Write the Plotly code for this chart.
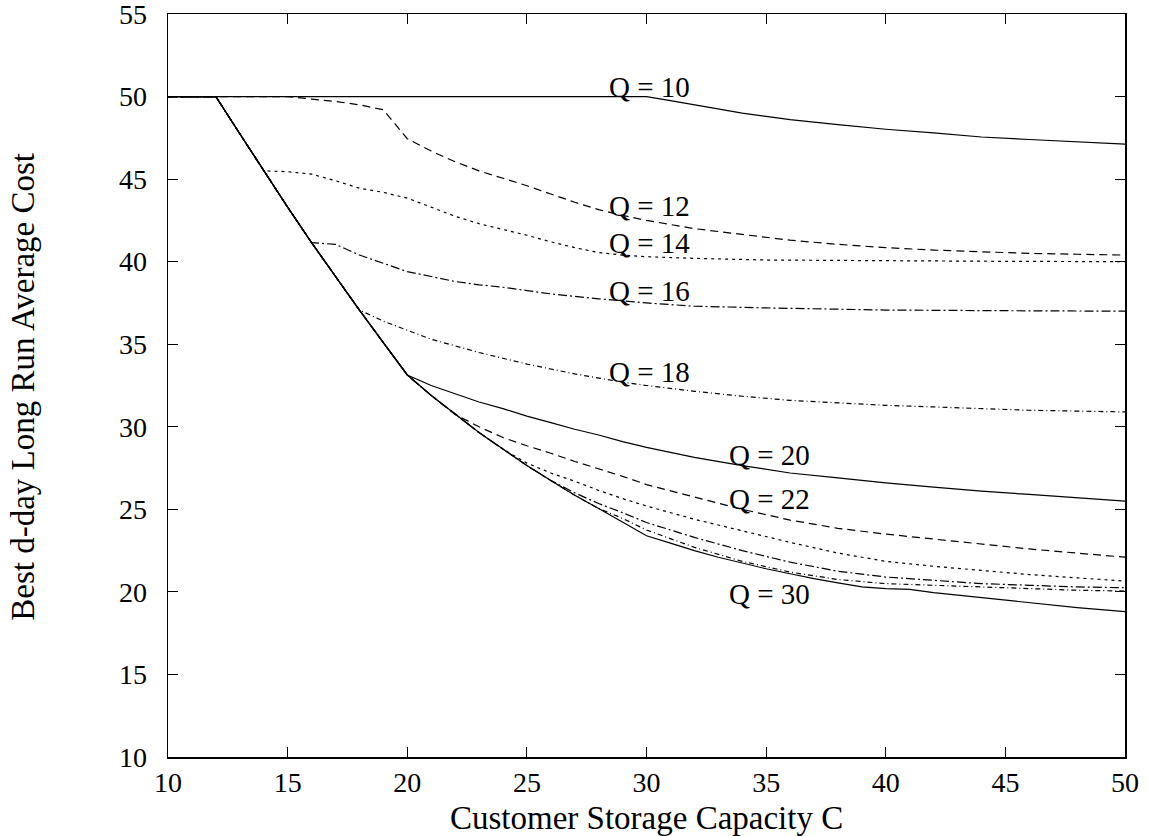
import plotly.graph_objects as go

# Lower envelope (shared by every Q curve for C <= Q)
env_C = [10, 11, 12, 13, 14, 15, 16, 17, 18, 19, 20, 21, 22, 23, 24, 25, 26, 27, 28, 29, 30]
env_v = [50, 50, 50, 47.75, 45.5, 43.3, 41.15, 39.1, 37.07, 35.1, 33.14, 31.9, 30.75, 29.65,
         28.65, 27.65, 26.75, 25.85, 25.05, 24.25, 23.4]

# Each Q curve from its branch point C = Q onward
q10_C = [10, 15, 20, 25, 30, 31, 32, 33, 34, 35, 36, 38, 40, 42, 44, 46, 48, 50]
q10_v = [50, 50, 50, 50, 50, 49.75, 49.5, 49.25, 49.0, 48.8, 48.6, 48.3, 48.02, 47.8, 47.55, 47.4, 47.25, 47.12]

q12_C = [12, 13, 14, 15, 16, 17, 18, 19, 20, 21, 22, 23, 24, 25, 26, 27, 28, 29, 30, 32, 34, 36, 38, 40, 42, 44, 46, 48, 50]
q12_v = [50, 50, 50, 50, 49.85, 49.7, 49.5, 49.2, 47.45, 46.7, 46.05, 45.5, 45.05, 44.6, 44.1, 43.6, 43.15,
         42.8, 42.5, 42.0, 41.65, 41.3, 41.05, 40.85, 40.7, 40.6, 40.5, 40.45, 40.4]

q14_C = [14, 15, 16, 17, 18, 19, 20, 21, 22, 23, 24, 25, 26, 27, 28, 29, 30, 32, 35, 40, 45, 50]
q14_v = [45.5, 45.45, 45.3, 44.9, 44.45, 44.2, 43.85, 43.3, 42.75, 42.3, 41.95, 41.6, 41.2, 40.85, 40.55,
         40.4, 40.3, 40.2, 40.1, 40.05, 40.02, 40.0]

q16_C = [16, 17, 18, 19, 20, 21, 22, 23, 24, 25, 26, 27, 28, 30, 32, 35, 40, 45, 50]
q16_v = [41.15, 41.05, 40.4, 39.9, 39.4, 39.1, 38.8, 38.6, 38.45, 38.25, 38.05, 37.9, 37.75, 37.5, 37.3,
         37.2, 37.07, 37.03, 37.0]

q18_C = [18, 19, 20, 21, 22, 23, 24, 25, 26, 27, 28, 29, 30, 32, 34, 36, 38, 40, 42, 44, 46, 48, 50]
q18_v = [37.07, 36.4, 35.85, 35.3, 34.9, 34.5, 34.15, 33.8, 33.5, 33.2, 32.95, 32.7, 32.5, 32.15, 31.85,
         31.6, 31.45, 31.3, 31.2, 31.1, 31.0, 30.95, 30.9]

q20_C = [20, 21, 22, 23, 24, 25, 26, 27, 28, 29, 30, 32, 34, 36, 38, 40, 42, 44, 46, 48, 50]
q20_v = [33.14, 32.5, 32.0, 31.5, 31.1, 30.65, 30.25, 29.85, 29.5, 29.1, 28.75, 28.15, 27.65, 27.2, 26.9,
         26.6, 26.35, 26.1, 25.9, 25.7, 25.5]

q22_C = [22, 23, 24, 25, 26, 27, 28, 29, 30, 32, 34, 36, 38, 40, 42, 44, 46, 48, 50]
q22_v = [30.75, 30.0, 29.35, 28.85, 28.4, 27.9, 27.45, 27.0, 26.5, 25.75, 25.0, 24.35, 23.85, 23.5, 23.2,
         22.9, 22.6, 22.35, 22.1]

q24_C = [24, 25, 26, 27, 28, 29, 30, 32, 34, 36, 38, 40, 42, 44, 46, 48, 50]
q24_v = [28.65, 27.8, 27.2, 26.7, 26.15, 25.65, 25.2, 24.4, 23.7, 23.0, 22.35, 21.85, 21.55, 21.3, 21.05,
         20.85, 20.65]

q26_C = [26, 27, 28, 29, 30, 32, 34, 36, 38, 40, 42, 44, 46, 48, 50]
q26_v = [26.75, 26.0, 25.35, 24.8, 24.2, 23.3, 22.5, 21.8, 21.25, 20.9, 20.7, 20.5, 20.4, 20.3, 20.25]

q28_C = [28, 29, 30, 32, 34, 36, 38, 40, 42, 44, 46, 48, 50]
q28_v = [25.05, 24.45, 23.75, 22.7, 21.85, 21.2, 20.75, 20.5, 20.4, 20.3, 20.2, 20.1, 20.05]

q30_C = [30, 31, 32, 33, 34, 35, 36, 37, 38, 39, 40, 41, 42, 44, 46, 48, 50]
q30_v = [23.4, 22.95, 22.5, 22.1, 21.75, 21.4, 21.1, 20.8, 20.55, 20.3, 20.2, 20.15, 19.95, 19.65, 19.35,
         19.05, 18.8]

Q_values = [10, 12, 14, 16, 18, 20, 22, 24, 26, 28, 30]
curves = [(q10_C, q10_v), (q12_C, q12_v), (q14_C, q14_v), (q16_C, q16_v), (q18_C, q18_v),
          (q20_C, q20_v), (q22_C, q22_v), (q24_C, q24_v), (q26_C, q26_v), (q28_C, q28_v),
          (q30_C, q30_v)]

labelled_Q = [10, 12, 14, 16, 18, 20, 22, 30]
label_C = [28.35, 28.35, 28.35, 28.35, 28.35, 33.35, 33.35, 33.35]
label_v = [50.55, 43.35, 41.15, 38.2, 33.3, 28.3, 25.6, 19.9]

dashes = ["solid", "8px,5px", "3px,4px", "9px,3px,2px,3px", "5px,3px,1px,3px"]

fig = go.Figure()
for i, (q, (cs, vs)) in enumerate(zip(Q_values, curves)):
    xs = [c for c in env_C if c < q] + list(cs)
    ys = [v for c, v in zip(env_C, env_v) if c < q] + list(vs)
    fig.add_trace(go.Scatter(
        x=xs, y=ys, mode="lines", name=f"Q = {q}",
        line=dict(color="black", width=1.2, dash=dashes[i % 5]),
        showlegend=False, hoverinfo="skip"))

font_family = "Liberation Serif"
for q, c, v in zip(labelled_Q, label_C, label_v):
    fig.add_annotation(x=c, y=v, xref="x", yref="y", text=f"Q = {q}", showarrow=False,
                       xanchor="left", yanchor="middle",
                       font=dict(family=font_family, size=29, color="black"))

fig.add_annotation(x=0.5, y=-0.082, xref="paper", yref="paper", text="Customer Storage Capacity C",
                   showarrow=False, xanchor="center", yanchor="middle",
                   font=dict(family=font_family, size=33, color="black"))
fig.add_annotation(x=-0.151, y=0.499, xref="paper", yref="paper",
                   text="Best d-day Long Run Average Cost", textangle=-90,
                   showarrow=False, xanchor="center", yanchor="middle",
                   font=dict(family=font_family, size=33, color="black"))

axis_common = dict(showline=True, linecolor="black", linewidth=1.5, mirror="ticks",
                   ticks="inside", ticklen=10, tickwidth=1.2, tickcolor="black",
                   showgrid=False, zeroline=False, ticklabeloverflow="allow",
                   tickfont=dict(family=font_family, size=28, color="black"))

fig.update_layout(
    width=1149, height=836,
    margin=dict(l=168, r=24, t=14, b=79, autoexpand=False),
    paper_bgcolor="white", plot_bgcolor="white",
    xaxis=dict(range=[10, 50], tick0=10, dtick=5, ticklabelstandoff=0, **axis_common),
    yaxis=dict(range=[10, 55], tick0=10, dtick=5, ticklabelstandoff=14, **axis_common),
)

fig.write_html("out.html",
               config={"displayModeBar": False, "staticPlot": True},
               post_script="document.body.style.margin='0';document.body.style.overflow='hidden';")
